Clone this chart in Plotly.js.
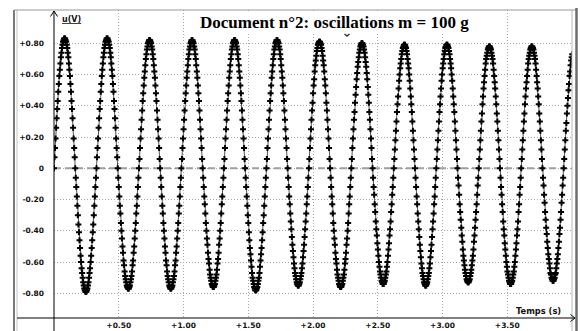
<!DOCTYPE html>
<html><head><meta charset="utf-8">
<script src="https://cdn.plot.ly/plotly-3.0.1.min.js"></script>
<style>html,body{margin:0;padding:0;background:#fff;}#chart{width:582px;height:331px;}</style>
</head><body><div id="chart"></div>
<script>
// Acquisition: first sample time and sampling interval (s)
const t0 = 0;
const dt = 0.0041;
// u(V) samples (one line ~ one half-oscillation)
const u = [
0,.07,.13,.19,.26,.32,.38,.43,.49,.54,.59,.63,.67,.71,.74,.77,.79,.81,.82,.83,.83,.83,.82,.81,.79,.77,.74,.71,.67,.63,.59,.54,.49,.43,.38,.32,.26,.19,.13,.07,
0,-.06,-.12,-.18,-.24,-.30,-.36,-.41,-.46,-.51,-.56,-.60,-.64,-.67,-.70,-.73,-.75,-.77,-.78,-.79,-.79,-.79,-.78,-.77,-.75,-.73,-.70,-.67,-.64,-.60,-.56,-.51,-.46,-.41,-.36,-.30,-.24,-.18,-.12,-.06,
0,.07,.13,.19,.26,.32,.38,.43,.49,.54,.59,.63,.67,.71,.74,.77,.79,.81,.82,.83,.83,.83,.82,.81,.79,.77,.74,.71,.67,.63,.59,.54,.49,.43,.38,.32,.26,.19,.13,.07,
0,-.06,-.12,-.18,-.24,-.29,-.35,-.40,-.45,-.50,-.54,-.59,-.62,-.66,-.69,-.71,-.73,-.75,-.76,-.77,-.77,-.77,-.76,-.75,-.73,-.71,-.69,-.66,-.62,-.59,-.54,-.50,-.45,-.40,-.35,-.29,-.24,-.18,-.12,-.06,
0,.06,.13,.19,.25,.31,.37,.43,.48,.53,.58,.62,.66,.70,.73,.76,.78,.80,.81,.82,.82,.82,.81,.80,.78,.76,.73,.70,.66,.62,.58,.53,.48,.43,.37,.31,.25,.19,.13,.06,
0,-.06,-.12,-.18,-.24,-.29,-.35,-.40,-.45,-.50,-.54,-.59,-.62,-.66,-.69,-.71,-.73,-.75,-.76,-.77,-.77,-.77,-.76,-.75,-.73,-.71,-.69,-.66,-.62,-.59,-.54,-.50,-.45,-.40,-.35,-.29,-.24,-.18,-.12,-.06,
0,.06,.13,.19,.25,.31,.37,.43,.48,.53,.58,.62,.66,.70,.73,.76,.78,.80,.81,.82,.82,.82,.81,.80,.78,.76,.73,.70,.66,.62,.58,.53,.48,.43,.37,.31,.25,.19,.13,.06,
0,-.06,-.12,-.18,-.23,-.29,-.35,-.40,-.45,-.49,-.54,-.58,-.61,-.65,-.68,-.70,-.72,-.74,-.75,-.76,-.76,-.76,-.75,-.74,-.72,-.70,-.68,-.65,-.61,-.58,-.54,-.49,-.45,-.40,-.35,-.29,-.23,-.18,-.12,-.06,
0,.06,.13,.19,.25,.31,.37,.43,.48,.53,.58,.62,.66,.70,.73,.76,.78,.80,.81,.82,.82,.82,.81,.80,.78,.76,.73,.70,.66,.62,.58,.53,.48,.43,.37,.31,.25,.19,.13,.06,
0,-.06,-.12,-.18,-.24,-.30,-.35,-.41,-.46,-.51,-.55,-.59,-.63,-.67,-.70,-.72,-.74,-.76,-.77,-.78,-.78,-.78,-.77,-.76,-.74,-.72,-.70,-.67,-.63,-.59,-.55,-.51,-.46,-.41,-.35,-.30,-.24,-.18,-.12,-.06,
0,.06,.13,.19,.25,.31,.37,.43,.48,.53,.58,.62,.66,.70,.73,.76,.78,.80,.81,.82,.82,.82,.81,.80,.78,.76,.73,.70,.66,.62,.58,.53,.48,.43,.37,.31,.25,.19,.13,.06,
0,-.06,-.12,-.18,-.23,-.29,-.34,-.39,-.44,-.49,-.53,-.57,-.61,-.64,-.67,-.69,-.71,-.73,-.74,-.75,-.75,-.75,-.74,-.73,-.71,-.69,-.67,-.64,-.61,-.57,-.53,-.49,-.44,-.39,-.34,-.29,-.23,-.18,-.12,-.06,
0,.06,.13,.19,.25,.31,.37,.42,.48,.53,.57,.62,.66,.69,.72,.75,.77,.79,.80,.81,.81,.81,.80,.79,.77,.75,.72,.69,.66,.62,.57,.53,.48,.42,.37,.31,.25,.19,.13,.06,
0,-.06,-.12,-.18,-.23,-.29,-.35,-.40,-.45,-.49,-.54,-.58,-.61,-.65,-.68,-.70,-.72,-.74,-.75,-.76,-.76,-.76,-.75,-.74,-.72,-.70,-.68,-.65,-.61,-.58,-.54,-.49,-.45,-.40,-.35,-.29,-.23,-.18,-.12,-.06,
0,.06,.13,.19,.25,.31,.36,.42,.47,.52,.57,.61,.65,.68,.71,.74,.76,.78,.79,.80,.80,.80,.79,.78,.76,.74,.71,.68,.65,.61,.57,.52,.47,.42,.36,.31,.25,.19,.13,.06,
0,-.06,-.12,-.17,-.23,-.28,-.34,-.39,-.43,-.48,-.52,-.56,-.60,-.63,-.66,-.68,-.70,-.72,-.73,-.74,-.74,-.74,-.73,-.72,-.70,-.68,-.66,-.63,-.60,-.56,-.52,-.48,-.43,-.39,-.34,-.28,-.23,-.17,-.12,-.06,
0,.06,.12,.18,.24,.30,.36,.41,.46,.51,.56,.60,.64,.67,.70,.73,.75,.77,.78,.79,.79,.79,.78,.77,.75,.73,.70,.67,.64,.60,.56,.51,.46,.41,.36,.30,.24,.18,.12,.06,
0,-.06,-.12,-.18,-.23,-.29,-.34,-.39,-.44,-.49,-.53,-.57,-.61,-.64,-.67,-.69,-.71,-.73,-.74,-.75,-.75,-.75,-.74,-.73,-.71,-.69,-.67,-.64,-.61,-.57,-.53,-.49,-.44,-.39,-.34,-.29,-.23,-.18,-.12,-.06,
0,.06,.12,.18,.24,.30,.36,.41,.46,.51,.56,.60,.64,.67,.70,.73,.75,.77,.78,.79,.79,.79,.78,.77,.75,.73,.70,.67,.64,.60,.56,.51,.46,.41,.36,.30,.24,.18,.12,.06,
0,-.06,-.11,-.17,-.23,-.28,-.33,-.38,-.43,-.47,-.52,-.56,-.59,-.62,-.65,-.67,-.69,-.71,-.72,-.73,-.73,-.73,-.72,-.71,-.69,-.67,-.65,-.62,-.59,-.56,-.52,-.47,-.43,-.38,-.33,-.28,-.23,-.17,-.11,-.06,
0,.06,.12,.18,.24,.30,.35,.41,.46,.51,.55,.59,.63,.67,.70,.72,.74,.76,.77,.78,.78,.78,.77,.76,.74,.72,.70,.67,.63,.59,.55,.51,.46,.41,.35,.30,.24,.18,.12,.06,
0,-.06,-.12,-.17,-.23,-.28,-.34,-.39,-.43,-.48,-.52,-.56,-.60,-.63,-.66,-.68,-.70,-.72,-.73,-.74,-.74,-.74,-.73,-.72,-.70,-.68,-.66,-.63,-.60,-.56,-.52,-.48,-.43,-.39,-.34,-.28,-.23,-.17,-.12,-.06,
0,.06,.12,.18,.24,.30,.35,.41,.46,.51,.55,.59,.63,.67,.70,.72,.74,.76,.77,.78,.78,.78,.77,.76,.74,.72,.70,.67,.63,.59,.55,.51,.46,.41,.35,.30,.24,.18,.12,.06,
0,-.06,-.11,-.17,-.22,-.28,-.33,-.38,-.42,-.47,-.51,-.55,-.58,-.61,-.64,-.67,-.68,-.70,-.71,-.72,-.72,-.72,-.71,-.70,-.68,-.67,-.64,-.61,-.58,-.55,-.51,-.47,-.42,-.38,-.33,-.28,-.22,-.17,-.11,-.06,
0,.06,.12,.18,.24,.29,.35,.40,.45,.50,.54,.59,.62,.66,.69,.71,.73
];
const xTickVals = [0.5, 1, 1.5, 2, 2.5, 3, 3.5];
const xTickText = ['+0.50','+1.00','+1.50','+2.00','+2.50','+3.00','+3.50'];
const yTickVals = [0.8, 0.6, 0.4, 0.2, 0, -0.2, -0.4, -0.6, -0.8];
const yTickText = ['+0.80','+0.60','+0.40','+0.20','0','-0.20','-0.40','-0.60','-0.80'];
const titleText = 'Document n°2: oscillations m = 100 g';
const yLabel = 'u(V)';
const xLabel = 'Temps (s)';

// page geometry (pixels) -> paper coordinates
const L = 54, R = 572, T = 10, B = 318;
const px = x => (x - L) / (R - L);
const py = y => (B - y) / (B - T);
const seg = (x0, y0, x1, y1, color, width) => ({type:'line', xref:'paper', yref:'paper',
  x0:px(x0), y0:py(y0), x1:px(x1), y1:py(y1), line:{color:color, width:width}});
const path = (pts, color, width) => ({type:'path', xref:'paper', yref:'paper',
  path: pts.map((p,i)=>(i?'L':'M')+px(p[0])+','+py(p[1])).join(' '),
  line:{color:color, width:width}});

const tickFont = {family:'DejaVu Sans', size:7.5, color:'#111', weight:'bold'};

const trace = {
  type:'scatter', mode:'lines+markers',
  y: u, x0: t0, dx: dt,
  line:{color:'#555', width:1},
  marker:{symbol:'cross', size:5, color:'#000'},
  cliponaxis:true, hoverinfo:'skip'
};

const layout = {
  width:582, height:331,
  margin:{l:L, r:582-R, t:T, b:331-B, pad:0},
  paper_bgcolor:'#fff', plot_bgcolor:'#fff',
  showlegend:false,
  xaxis:{range:[0,4.0], tickvals:xTickVals, ticktext:xTickText, ticks:'',
    showgrid:true, gridcolor:'#a8a8a8', griddash:'1px,2px', gridwidth:1,
    zeroline:false, showline:false, tickfont:tickFont, ticklabelstandoff:1, fixedrange:true},
  yaxis:{range:[-0.958,1.013], tickvals:yTickVals, ticktext:yTickText, ticks:'',
    showgrid:true, gridcolor:'#a8a8a8', griddash:'1px,2px', gridwidth:1,
    zeroline:false, showline:false, tickfont:tickFont, ticklabelstandoff:9, fixedrange:true},
  shapes:[
    {type:'line', xref:'x', yref:'y', x0:0, x1:4, y0:0, y1:0, layer:'below',
      line:{color:'#9c9c9c', width:2, dash:'7px,4px'}},
    // outer frame
    seg(14, 10, 14, 331, '#7a7a7a', 2),
    seg(17, 10, 17, 331, '#c4c4c4', 1),
    seg(14, 10, 577, 10, '#9a9a9a', 1.2),
    seg(R, 10, R, 331, '#b8b8b8', 1),
    seg(576.5, 8, 576.5, 331, '#6e6e6e', 2.5),
    // axes with arrows
    seg(L, 11, L, 331, '#000', 1),
    path([[50.5,16.5],[L,11],[57.5,16.5]], '#000', 1),
    seg(17, B, 575, B, '#000', 1),
    path([[570.5,314.5],[575,B],[570.5,321.5]], '#000', 1),
    // small cursor mark under the title
    path([[344.5,34],[347,36],[349.5,34]], '#333', 1.5)
  ],
  annotations:[
    {text:'<b>'+titleText+'</b>', xref:'paper', yref:'paper', x:px(334), y:py(22.5),
      xanchor:'center', yanchor:'middle', showarrow:false, bgcolor:'#fff', borderpad:0,
      font:{family:'Liberation Serif', size:17, color:'#000'}},
    {text:'<u>'+yLabel+'</u>', xref:'paper', yref:'paper', x:px(60), y:py(19.5),
      xanchor:'left', yanchor:'middle', showarrow:false,
      font:{family:'DejaVu Sans', size:8, color:'#111', weight:'bold'}},
    {text:xLabel, xref:'paper', yref:'paper', x:px(562.5), y:py(311),
      xanchor:'right', yanchor:'middle', showarrow:false,
      font:{family:'DejaVu Sans', size:8.3, color:'#111', weight:'bold'}}
  ]
};

Plotly.newPlot('chart', [trace], layout, {staticPlot:true, displayModeBar:false});
</script>
</body></html>
